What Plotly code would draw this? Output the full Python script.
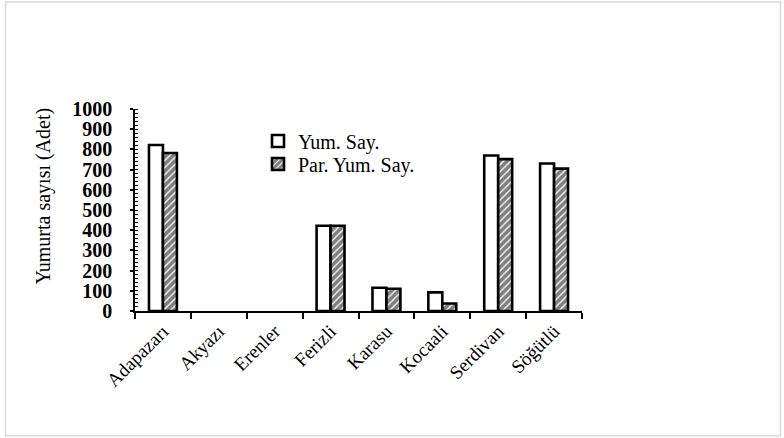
import plotly.graph_objects as go

# Ilçe bazında yumurta sayıları
ilceler = ["Adapazarı", "Akyazı", "Erenler", "Ferizli", "Karasu", "Kocaali", "Serdivan", "Söğütlü"]
yum_say = [822, 0, 0, 422, 115, 92, 770, 730]
par_yum_say = [782, 0, 0, 422, 110, 37, 752, 705]
y_ticks = [0, 100, 200, 300, 400, 500, 600, 700, 800, 900, 1000]

serif = "Liberation Serif, Times New Roman, serif"


def edge_widths(values, w=2.6):
    # sıfır değerli çubuklara kenar çizgisi çizilmez
    return [w if v > 0 else 0 for v in values]


fig = go.Figure()
fig.add_trace(go.Bar(
    x=ilceler, y=yum_say, name="Yum. Say.", legend="legend",
    marker=dict(color="white", line=dict(color="black", width=edge_widths(yum_say))),
))
fig.add_trace(go.Bar(
    x=ilceler, y=par_yum_say, name="Par. Yum. Say.", legend="legend2",
    marker=dict(color="white", line=dict(color="black", width=edge_widths(par_yum_say)),
                pattern=dict(shape="/", fgcolor="black", bgcolor="white",
                             size=5, solidity=0.74)),
))

# grafik alanı ölçüleri (piksel)
L, R, T, B = 135, 582, 108.5, 310.7
W, H = R - L, B - T


def px(x):
    return (x - L) / W


def py(y):
    return (B - y) / H


# dış çerçeve
fig.add_shape(type="rect", xref="paper", yref="paper",
              x0=px(5.5), x1=px(780.5), y0=py(435.5), y1=py(1.5),
              line=dict(color="#d9d9d9", width=1.5), fillcolor="rgba(0,0,0,0)")

# dikey eksen başlığı
fig.add_annotation(text="Yumurta sayısı (Adet)", xref="paper", yref="paper",
                   x=px(43), y=py(196), xanchor="center", yanchor="middle",
                   textangle=-90, showarrow=False,
                   font=dict(family=serif, size=20, color="black"))

legend_style = dict(xanchor="left", yanchor="top", bgcolor="rgba(0,0,0,0)",
                    font=dict(family=serif, size=20, color="black"), itemwidth=30)

fig.update_layout(
    width=784, height=438,
    margin=dict(l=L, r=784 - R, t=T, b=438 - B),
    paper_bgcolor="white", plot_bgcolor="white",
    barmode="group", bargap=0.5, bargroupgap=0,
    font=dict(family=serif, color="black", size=20),
    legend=dict(x=px(258), y=py(121), **legend_style),
    legend2=dict(x=px(258), y=py(144), **legend_style),
    showlegend=True,
)
fig.update_xaxes(
    showline=True, linecolor="black", linewidth=1.5,
    ticks="outside", ticklen=6, tickcolor="black", tickwidth=1.5,
    tickson="boundaries", tickangle=-45,
    tickfont=dict(family=serif, size=19, color="black"),
    showgrid=False, zeroline=False,
)
fig.update_yaxes(
    range=[0, 1000], tickvals=y_ticks,
    showline=True, linecolor="black", linewidth=1.5,
    ticks="outside", ticklen=3, tickcolor="black", tickwidth=1.5,
    ticklabelstandoff=14,
    minor=dict(dtick=20, ticks="inside", ticklen=3, tickcolor="black", tickwidth=1, showgrid=False),
    tickfont=dict(family=serif, size=20, color="black", weight="bold"),
    showgrid=False, zeroline=False,
)

fig.write_html("out.html")
